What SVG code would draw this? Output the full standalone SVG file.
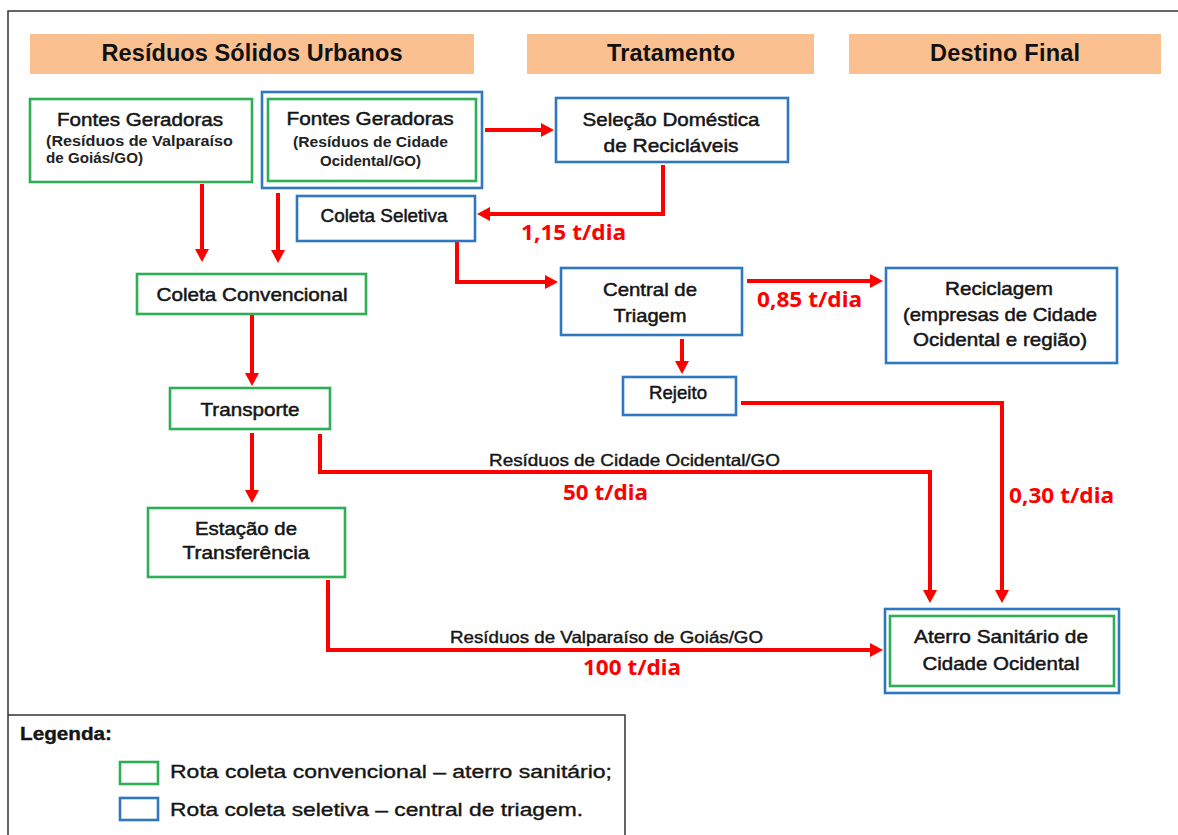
<svg xmlns="http://www.w3.org/2000/svg" width="1178" height="835" viewBox="0 0 1178 835">
<defs>
<style>
.hdr{fill:#FAC090}
.ht{font-family:"Liberation Sans",Arial,sans-serif;font-weight:bold;font-size:23.5px;fill:#111;text-anchor:middle}
.g{fill:#fff;stroke:#2EAF55;stroke-width:2.6}
.b{fill:#fff;stroke:#2E78C0;stroke-width:2.6}
.nt{font-family:"Liberation Sans",Arial,sans-serif;font-size:19px;fill:#151515;stroke:#151515;stroke-width:0.5;text-anchor:middle}
.st{font-family:"Liberation Sans",Arial,sans-serif;font-weight:bold;font-size:14px;fill:#222}
.el{font-family:"Liberation Sans",Arial,sans-serif;font-size:16.5px;fill:#151515;stroke:#151515;stroke-width:0.4}
.rl{font-family:"Noto Sans","Open Sans",sans-serif;font-weight:bold;font-size:21px;fill:#FF0000}
.lg{font-family:"Liberation Sans",Arial,sans-serif;font-size:18px;fill:#151515;stroke:#151515;stroke-width:0.35}
.c{fill:none;stroke:#FF0000;stroke-width:4;marker-end:url(#ah)}
.fr{fill:none;stroke:#333;stroke-width:1.5}
</style>
<marker id="ah" markerUnits="userSpaceOnUse" markerWidth="14" markerHeight="14" refX="0" refY="7" orient="auto" viewBox="0 0 14 14">
<path d="M0,0 L13,7 L0,14 Z" fill="#FF0000"/>
</marker>
</defs>
<rect width="1178" height="835" fill="#fff"/>
<g id="frame">
<path class="fr" d="M8,835 V11 H1178"/>
<path class="fr" d="M8,715 H625 V835"/>
</g>
<g id="headers">
<rect class="hdr" x="30" y="34" width="444" height="40"/>
<text class="ht" x="252" y="61" textLength="301">Resíduos Sólidos Urbanos</text>
<rect class="hdr" x="527" y="34" width="287" height="40"/>
<text class="ht" x="671" y="61" textLength="128">Tratamento</text>
<rect class="hdr" x="849" y="34" width="312" height="40"/>
<text class="ht" x="1005" y="61" textLength="150">Destino Final</text>
</g>
<g id="connectors">
<path class="c" d="M202,184 V249"/>
<path class="c" d="M278,193 V250"/>
<path class="c" d="M485,130 H541"/>
<path class="c" d="M663,165 V214 H490"/>
<path class="c" d="M457,242 V282 H545"/>
<path class="c" d="M747,281 H870"/>
<path class="c" d="M682,339 V361"/>
<path class="c" d="M741,403 H1002 V590"/>
<path class="c" d="M252,315 V373"/>
<path class="c" d="M252,433 V490"/>
<path class="c" d="M320,434 V472 H930 V590"/>
<path class="c" d="M328,580 V650 H870"/>
<text class="rl" x="521" y="240" textLength="105" lengthAdjust="spacingAndGlyphs">1,15 t/dia</text>
<text class="rl" x="757" y="307" textLength="105" lengthAdjust="spacingAndGlyphs">0,85 t/dia</text>
<text class="rl" x="1009" y="503" textLength="105" lengthAdjust="spacingAndGlyphs">0,30 t/dia</text>
<text class="rl" x="563" y="500" textLength="85" lengthAdjust="spacingAndGlyphs">50 t/dia</text>
<text class="rl" x="583" y="675" textLength="98" lengthAdjust="spacingAndGlyphs">100 t/dia</text>
<text class="el" x="489" y="466" textLength="291" lengthAdjust="spacingAndGlyphs">Resíduos de Cidade Ocidental/GO</text>
<text class="el" x="450" y="643" textLength="313" lengthAdjust="spacingAndGlyphs">Resíduos de Valparaíso de Goiás/GO</text>
</g>
<g id="fontes-valparaiso">
<rect class="g" x="30" y="99" width="222" height="83"/>
<text class="nt" x="140" y="126" textLength="166" lengthAdjust="spacingAndGlyphs">Fontes Geradoras</text>
<text class="st" x="46" y="146" textLength="187" lengthAdjust="spacingAndGlyphs">(Resíduos  de  Valparaíso</text>
<text class="st" x="46" y="163" textLength="97" lengthAdjust="spacingAndGlyphs">de Goiás/GO)</text>
</g>
<g id="fontes-cidade">
<rect class="b" x="262" y="92" width="220" height="96"/>
<rect class="g" x="268" y="99" width="208" height="82"/>
<text class="nt" x="370" y="125" textLength="167" lengthAdjust="spacingAndGlyphs">Fontes Geradoras</text>
<text class="st" x="370.5" y="147" text-anchor="middle" textLength="155" lengthAdjust="spacingAndGlyphs">(Resíduos de Cidade</text>
<text class="st" x="370.5" y="166" text-anchor="middle" textLength="101" lengthAdjust="spacingAndGlyphs">Ocidental/GO)</text>
</g>
<g id="selecao">
<rect class="b" x="556" y="98" width="232" height="64"/>
<text class="nt" x="671" y="126" textLength="177" lengthAdjust="spacingAndGlyphs">Seleção Doméstica</text>
<text class="nt" x="671" y="152" textLength="135" lengthAdjust="spacingAndGlyphs">de Recicláveis</text>
</g>
<g id="coleta-seletiva">
<rect class="b" x="297" y="196" width="178" height="45"/>
<text class="nt" x="384" y="222" font-size="17" textLength="127" lengthAdjust="spacingAndGlyphs">Coleta Seletiva</text>
</g>
<g id="coleta-convencional">
<rect class="g" x="137" y="274" width="229" height="40"/>
<text class="nt" x="252" y="301" textLength="191" lengthAdjust="spacingAndGlyphs">Coleta Convencional</text>
</g>
<g id="central-triagem">
<rect class="b" x="561" y="268" width="181" height="67"/>
<text class="nt" x="650" y="296" textLength="94" lengthAdjust="spacingAndGlyphs">Central de</text>
<text class="nt" x="650" y="322" textLength="73" lengthAdjust="spacingAndGlyphs">Triagem</text>
</g>
<g id="reciclagem">
<rect class="b" x="886" y="268" width="231" height="95"/>
<text class="nt" x="999" y="295" textLength="108" lengthAdjust="spacingAndGlyphs">Reciclagem</text>
<text class="nt" x="1000" y="321" textLength="194" lengthAdjust="spacingAndGlyphs">(empresas de Cidade</text>
<text class="nt" x="1000" y="346" textLength="174" lengthAdjust="spacingAndGlyphs">Ocidental e região)</text>
</g>
<g id="rejeito">
<rect class="b" x="623" y="377" width="113" height="38"/>
<text class="nt" x="678" y="399" font-size="16" textLength="58" lengthAdjust="spacingAndGlyphs">Rejeito</text>
</g>
<g id="transporte">
<rect class="g" x="170" y="388" width="160" height="41"/>
<text class="nt" x="250" y="416" textLength="99" lengthAdjust="spacingAndGlyphs">Transporte</text>
</g>
<g id="estacao">
<rect class="g" x="148" y="508" width="197" height="69"/>
<text class="nt" x="246" y="535" textLength="102" lengthAdjust="spacingAndGlyphs">Estação de</text>
<text class="nt" x="246" y="559" textLength="127" lengthAdjust="spacingAndGlyphs">Transferência</text>
</g>
<g id="aterro">
<rect class="b" x="885" y="609" width="234" height="84"/>
<rect class="g" x="890" y="616" width="224" height="70"/>
<text class="nt" x="1001" y="643" textLength="174" lengthAdjust="spacingAndGlyphs">Aterro Sanitário de</text>
<text class="nt" x="1001" y="670" textLength="157" lengthAdjust="spacingAndGlyphs">Cidade Ocidental</text>
</g>
<g id="legend">
<text class="lg" x="20" y="740" font-weight="bold" stroke-width="0" textLength="92" lengthAdjust="spacingAndGlyphs">Legenda:</text>
<rect class="g" x="120" y="762" width="38" height="22"/>
<text class="lg" x="170" y="778" textLength="442" lengthAdjust="spacingAndGlyphs">Rota coleta convencional  – aterro sanitário;</text>
<rect class="b" x="120" y="798" width="38" height="22"/>
<text class="lg" x="170" y="816" textLength="413" lengthAdjust="spacingAndGlyphs">Rota coleta seletiva – central  de triagem.</text>
</g>
</svg>
